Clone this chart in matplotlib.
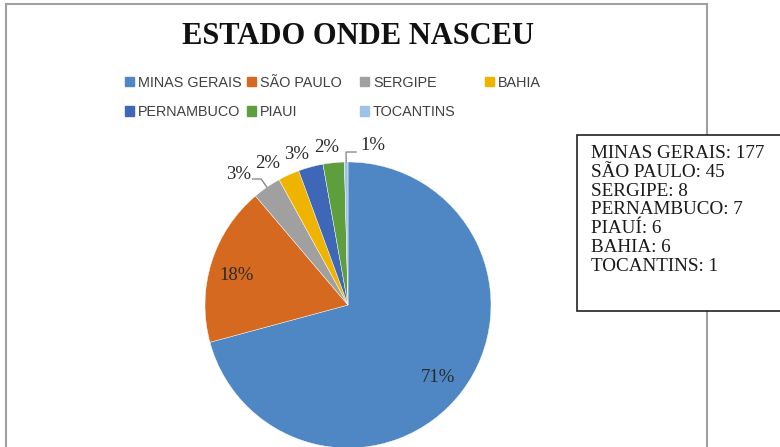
import matplotlib.pyplot as plt
import matplotlib.patches as mpatches
import numpy as np

# pie slices, in drawing order (clockwise from 12 o'clock)
states = ["MINAS GERAIS", "SÃO PAULO", "SERGIPE", "BAHIA", "PERNAMBUCO", "PIAUI", "TOCANTINS"]
counts = [177, 45, 8, 6, 7, 6, 1]
pct_labels = ["71%", "18%", "3%", "2%", "3%", "2%", "1%"]

# text box on the right
box_names = ["MINAS GERAIS", "SÃO PAULO", "SERGIPE", "PERNAMBUCO", "PIAUÍ", "BAHIA", "TOCANTINS"]
box_counts = [177, 45, 8, 7, 6, 6, 1]

colors = ["#4e87c3", "#d5691f", "#a0a0a0", "#efb400", "#3e67b7", "#5f9e3d", "#9dc3e6"]

W, H = 780, 447
fig = plt.figure(figsize=(W / 100, H / 100), dpi=100)

# outer chart frame
fig.add_artist(mpatches.Rectangle((6 / W, -0.05), 701 / W, 1.05 - 4 / H,
                                  transform=fig.transFigure, fill=False,
                                  edgecolor="#a0a0a0", linewidth=1.5))

fig.text(358 / W, 1 - 36 / H, "ESTADO ONDE NASCEU", ha="center", va="center",
         fontsize=22, fontweight="bold", family="Liberation Serif", color="#111111")

# pie axes: center (348, 305) px, radius 143 px
cx, cy, r = 348, 305, 143
ax = fig.add_axes([(cx - r) / W, (H - cy - r) / H, 2 * r / W, 2 * r / H])
wedges, _ = ax.pie(counts, colors=colors, startangle=90, counterclock=False,
                   wedgeprops=dict(edgecolor="white", linewidth=0.3))
ax.set_xlim(-1, 1)
ax.set_ylim(-1, 1)
ax.axis("off")

# label placement: distance and angle offset per slice
label_dist = [0.81, 0.81, 1.19, 1.14, 1.11, 1.11, 1.13]
label_shift = [-1.3, 2.3, 5.5, 5.0, 3.7, 1.8, -9.5]
for i, w in enumerate(wedges):
    mid = np.deg2rad((w.theta1 + w.theta2) / 2 + label_shift[i])
    x, y = label_dist[i] * np.cos(mid), label_dist[i] * np.sin(mid)
    t = ax.text(x, y, pct_labels[i], ha="center", va="center", fontsize=13.5,
                family="Liberation Serif", color="#2a2a2a")
    t.set_clip_on(False)

# leader lines for SERGIPE and TOCANTINS
for i in (2, 6):
    w = wedges[i]
    mid = np.deg2rad((w.theta1 + w.theta2) / 2)
    ex, ey = np.cos(mid), np.sin(mid)
    kx, ky = 1.07 * np.cos(mid), 1.07 * np.sin(mid)
    if i == 2:
        hx = kx - 0.06
    else:
        hx = kx + 0.07
    ax.plot([ex, kx, hx], [ey, ky, ky], color="#7f7f7f", lw=0.9, clip_on=False)

# legend: one small legend per column, placed like excel does it
leg_cols = [[0, 4], [1, 5], [2, 6], [3]]
leg_x = [125, 247, 360, 485]
for col, x0 in zip(leg_cols, leg_x):
    hs = [mpatches.Patch(color=colors[i]) for i in col]
    leg = fig.legend(hs, [states[i] for i in col], loc="upper left",
                     bbox_to_anchor=(x0 / W, 1 - 76 / H), frameon=False,
                     borderpad=0, borderaxespad=0, handlelength=0.6, handleheight=0.6,
                     handletextpad=0.3, labelspacing=1.05,
                     prop=dict(family="Liberation Sans", size=10.4))
    for txt in leg.get_texts():
        txt.set_color("#404040")

# data box
fig.add_artist(mpatches.Rectangle((577 / W, 1 - 311 / H), 205 / W, 176 / H,
                                  transform=fig.transFigure, fill=True, facecolor="white",
                                  edgecolor="#222222", linewidth=1.2))
box_text = "\n".join(f"{n}: {c}" for n, c in zip(box_names, box_counts))
fig.text(591 / W, 1 - 145 / H, box_text, ha="left", va="top", fontsize=13.8,
         family="Liberation Serif", color="#1a1a1a", linespacing=1.14)

fig.savefig("out.png", dpi=100)
